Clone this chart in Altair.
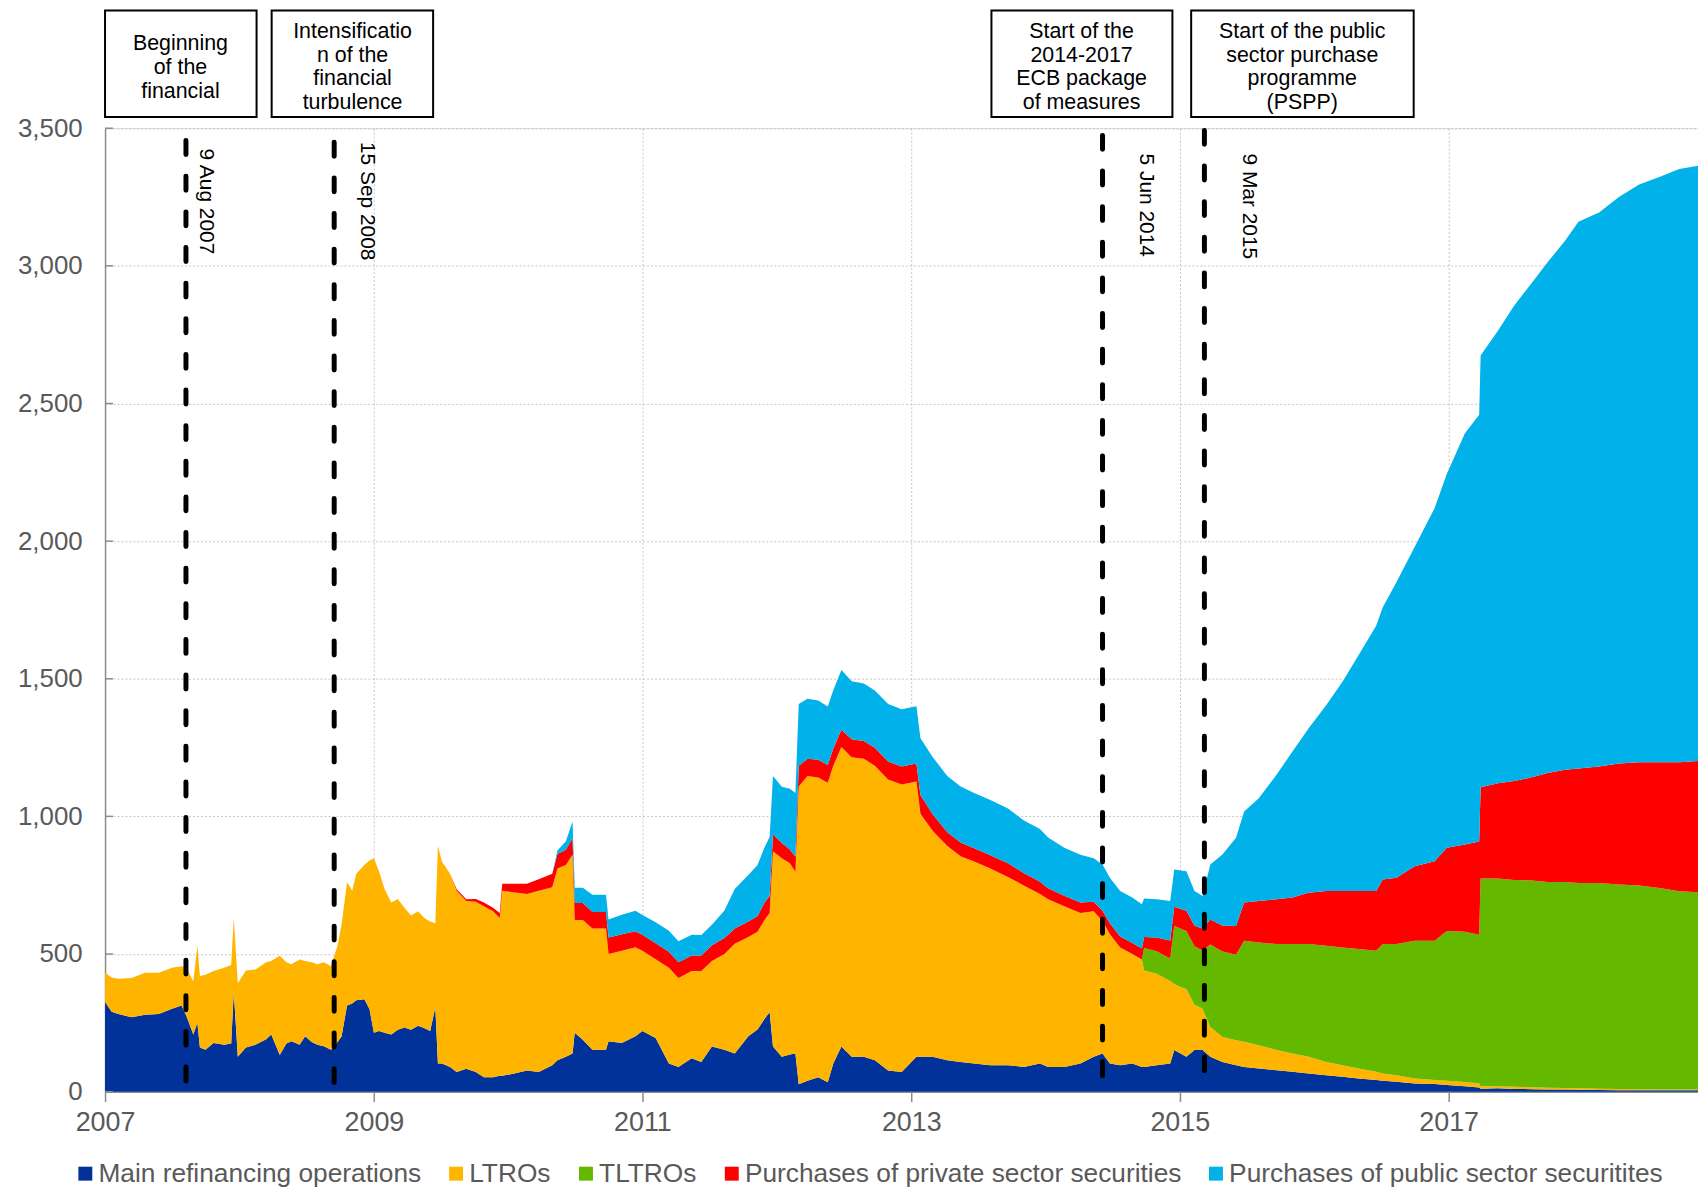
import altair as alt
import pandas as pd

# ---------------- data (EUR billions) ----------------
dates = [
    "2007-01-01", "2007-01-19", "2007-02-06", "2007-03-14", "2007-04-20", "2007-05-27", "2007-07-02", "2007-07-28",
    "2007-08-10", "2007-08-29", "2007-09-09", "2007-09-16", "2007-10-01", "2007-10-23", "2007-11-21", "2007-12-10",
    "2007-12-17", "2007-12-28",
    "2008-01-19", "2008-02-14", "2008-03-14", "2008-03-28", "2008-04-20", "2008-05-08", "2008-05-22", "2008-06-13",
    "2008-06-28", "2008-07-16", "2008-07-31", "2008-08-18", "2008-09-06", "2008-09-24", "2008-10-05", "2008-10-20",
    "2008-11-03", "2008-11-14", "2008-12-06", "2008-12-20",
    "2009-01-01", "2009-01-15", "2009-01-30", "2009-02-17", "2009-03-07", "2009-03-25", "2009-04-12", "2009-05-01",
    "2009-05-19", "2009-06-03", "2009-06-17", "2009-06-24", "2009-07-05", "2009-07-27", "2009-08-14", "2009-09-09",
    "2009-10-05", "2009-10-27", "2009-11-21", "2009-12-09", "2009-12-16",
    "2010-01-15", "2010-02-21", "2010-03-25", "2010-05-01", "2010-05-15", "2010-06-07", "2010-06-25", "2010-07-01",
    "2010-07-23", "2010-08-18", "2010-09-24", "2010-10-01", "2010-11-06", "2010-12-13",
    "2011-01-01", "2011-02-06", "2011-03-14", "2011-04-09", "2011-05-15", "2011-06-10", "2011-07-09", "2011-08-12",
    "2011-09-09", "2011-10-16", "2011-11-10", "2011-11-29", "2011-12-13", "2011-12-22",
    "2012-01-15", "2012-02-06", "2012-02-21", "2012-03-01", "2012-03-25", "2012-04-23", "2012-05-19", "2012-06-03",
    "2012-06-25", "2012-07-23", "2012-08-25", "2012-09-24", "2012-10-30", "2012-12-06",
    "2013-01-15", "2013-01-26", "2013-02-28", "2013-04-09", "2013-05-15", "2013-06-21", "2013-08-04", "2013-09-21",
    "2013-11-03", "2013-12-17",
    "2014-01-08", "2014-02-21", "2014-04-06", "2014-05-12", "2014-06-05", "2014-06-25", "2014-07-23", "2014-08-25",
    "2014-09-20", "2014-09-26", "2014-10-30", "2014-12-06", "2014-12-17",
    "2015-01-19", "2015-02-10", "2015-03-04", "2015-03-25", "2015-04-27", "2015-06-03", "2015-06-25", "2015-08-04",
    "2015-09-21", "2015-11-03", "2015-12-17",
    "2016-02-03", "2016-03-18", "2016-05-01", "2016-06-18", "2016-07-06", "2016-08-12", "2016-10-01", "2016-11-24",
    "2016-12-27",
    "2017-02-14", "2017-03-25", "2017-03-29", "2017-05-15", "2017-06-28", "2017-08-15", "2017-09-27", "2017-11-14",
    "2017-12-20",
    "2018-02-14", "2018-04-09", "2018-06-03", "2018-07-28", "2018-09-20", "2018-11-10",
]

mro = [
    326, 290, 282, 270, 279, 282, 301, 313, 276, 208, 250, 160, 152, 177, 170, 175, 363, 127,
    160, 170, 190, 208, 133, 175, 183, 170, 201, 180, 170, 165, 152, 180, 200, 313, 320, 332, 336, 300,
    214, 220, 214, 208, 225, 233, 225, 239, 230, 220, 307, 102, 102, 90, 71, 83, 71, 52, 52, 58, 58,
    65, 77, 71, 96, 114, 127, 139, 214, 189, 152, 152, 183, 177, 201,
    220, 195, 102, 90, 121, 108, 164, 152, 139, 201, 226, 264, 289, 164,
    127, 135, 139, 27, 40, 52, 34, 102, 164, 127, 127, 114, 77, 71,
    127, 127, 127, 114, 108, 102, 96, 96, 90, 102,
    90, 90, 102, 127, 139, 102, 96, 102, 90, 90, 96, 102, 151,
    127, 151, 151, 127, 108, 96, 90, 84, 78, 72, 66,
    60, 54, 48, 42, 40, 36, 30, 28, 24,
    20, 15, 11, 12, 10, 9, 8, 8, 7,
    6, 5, 5, 5, 5, 5,
]

ltro = [
    106, 125, 128, 143, 153, 150, 149, 143, 174, 192, 281, 260, 273, 261, 280, 285, 268, 267,
    280, 274, 280, 267, 361, 295, 280, 310, 274, 290, 293, 305, 304, 350, 406, 448, 410, 460, 487, 540,
    634, 580, 522, 479, 475, 435, 415, 416, 400, 398, 305, 790, 734, 702, 659, 610, 619, 622, 603, 573, 672,
    659, 641, 659, 647, 697, 696, 722, 410, 435, 441, 441, 317, 335, 324,
    292, 286, 348, 323, 317, 330, 311, 348, 398, 361, 355, 360, 360, 709,
    721, 695, 659, 1082, 1107, 1089, 1088, 1082, 1088, 1088, 1082, 1070, 1057, 1045,
    1000, 883, 821, 778, 747, 734, 715, 684, 659, 616,
    609, 584, 547, 528, 481, 470, 428, 398, 390, 350, 332, 300, 239,
    245, 165, 150, 108, 91, 91, 91, 85, 73, 67, 61,
    48, 42, 36, 30, 26, 24, 18, 14, 16,
    15, 15, 9, 8, 8, 7, 6, 5, 5,
    5, 5, 4, 3, 3, 3,
]

tltro = [
    0, 0, 0, 0, 0, 0, 0, 0, 0, 0, 0, 0, 0, 0, 0, 0, 0, 0,
    0, 0, 0, 0, 0, 0, 0, 0, 0, 0, 0, 0, 0, 0, 0, 0, 0, 0, 0, 0,
    0, 0, 0, 0, 0, 0, 0, 0, 0, 0, 0, 0, 0, 0, 0, 0, 0, 0, 0, 0, 0,
    0, 0, 0, 0, 0, 0, 0, 0, 0, 0, 0, 0, 0, 0,
    0, 0, 0, 0, 0, 0, 0, 0, 0, 0, 0, 0, 0, 0,
    0, 0, 0, 0, 0, 0, 0, 0, 0, 0, 0, 0, 0, 0,
    0, 0, 0, 0, 0, 0, 0, 0, 0, 0,
    0, 0, 0, 0, 0, 0, 0, 0, 0, 82, 82, 82, 212,
    212, 212, 212, 300, 310, 310, 367, 373, 385, 397, 409,
    422, 428, 434, 440, 470, 476, 500, 506, 544,
    546, 540, 754, 754, 751, 751, 748, 749, 746,
    747, 743, 740, 732, 720, 716,
]

private_purchases = [
    0, 0, 0, 0, 0, 0, 0, 0, 0, 0, 0, 0, 0, 0, 0, 0, 0, 0,
    0, 0, 0, 0, 0, 0, 0, 0, 0, 0, 0, 0, 0, 0, 0, 0, 0, 0, 0, 0,
    0, 0, 0, 0, 0, 0, 0, 0, 0, 0, 0, 0, 0, 0, 5, 6, 10, 13, 13, 18, 25,
    31, 37, 42, 49, 52, 56, 60, 61, 61, 60, 60, 60, 60, 58,
    58, 58, 58, 57, 57, 57, 57, 58, 56, 56, 56, 63, 62, 62,
    55, 50, 55, 75, 62, 65, 65, 63, 63, 65, 65, 65, 65, 65,
    65, 68, 60, 50, 50, 48, 48, 50, 45, 45,
    40, 38, 38, 35, 37, 40, 40, 40, 40, 40, 50, 65, 70,
    73, 75, 80, 90, 95, 105, 139, 151, 163, 169, 187,
    199, 205, 211, 217, 235, 241, 271, 289, 302,
    317, 339, 332, 346, 360, 375, 396, 407, 416,
    423, 439, 448, 457, 469, 477,
]

public_purchases = [
    0, 0, 0, 0, 0, 0, 0, 0, 0, 0, 0, 0, 0, 0, 0, 0, 0, 0,
    0, 0, 0, 0, 0, 0, 0, 0, 0, 0, 0, 0, 0, 0, 0, 0, 0, 0, 0, 0,
    0, 0, 0, 0, 0, 0, 0, 0, 0, 0, 0, 0, 0, 0, 0, 0, 0, 0, 0, 0, 0,
    0, 0, 0, 0, 13, 31, 60, 56, 56, 62, 62, 65, 71, 74,
    72, 76, 77, 76, 75, 74, 74, 100, 143, 169, 186, 200, 215, 212,
    205, 220, 232, 224, 218, 215, 212, 211, 217, 211, 209, 208, 209, 208,
    208, 206, 208, 205, 204, 201, 201, 199, 191, 191,
    184, 174, 174, 158, 168, 165, 165, 165, 161, 140, 139, 144, 135,
    144, 126, 118, 200, 258, 320, 331, 373, 452, 530, 596,
    675, 759, 856, 964, 989, 1074, 1161, 1283, 1358,
    1493, 1550, 1568, 1644, 1726, 1796, 1855, 1923, 1986,
    2013, 2058, 2099, 2126, 2155, 2163,
]

series_names = [
    "Main refinancing operations",
    "LTROs",
    "TLTROs",
    "Purchases of private sector securities",
    "Purchases of public sector securitites",
]
series_colors = ["#003299", "#FFB400", "#65B800", "#FF0000", "#00B1EA"]

year_labels = [2007, 2009, 2011, 2013, 2015, 2017]
y_ticks = [0, 500, 1000, 1500, 2000, 2500, 3000, 3500]

event_dates = ["2007-08-09", "2008-09-15", "2014-06-05", "2015-03-09"]
event_labels = ["9 Aug 2007", "15 Sep 2008", "5 Jun 2014", "9 Mar 2015"]
event_line_tops = [3455, 3449, 3474, 3492]
event_label_tops = [3426, 3450, 3408, 3408]
event_label_shift = [14, 26.5, 38, 38.5]

box_starts = ["2007-01-01", "2008-03-29", "2013-08-07", "2015-02-01"]
box_ends = ["2008-02-17", "2009-06-11", "2014-12-12", "2016-09-28"]
box_centers = ["2007-07-25", "2008-11-04", "2014-04-09", "2015-11-30"]
box_top, box_bottom = 3928, 3541
box_first_line = [3784, 3829, 3829, 3829]
box_texts = [
    ["Beginning", "of the", "financial"],
    ["Intensificatio", "n of the", "financial", "turbulence"],
    ["Start of the", "2014-2017", "ECB package", "of measures"],
    ["Start of the public", "sector purchase", "programme", "(PSPP)"],
]

# ---------------- build tables ----------------
all_series = [mro, ltro, tltro, private_purchases, public_purchases]
assert all(len(s) == len(dates) for s in all_series), [len(s) for s in all_series] + [len(dates)]

records = []
for k, (name, vals) in enumerate(zip(series_names, all_series)):
    for d, v in zip(dates, vals):
        records.append({"date": d, "series": name, "rank": k, "value": v})
df = pd.DataFrame(records)

FONT = "Liberation Sans, Arial, sans-serif"
GRID = "#C6C6C6"
AXIS = "#8C8C8C"
LABEL = "#595959"


def dt(s):
    y, m, d = (int(p) for p in s.split("-"))
    return alt.DateTime(year=y, month=m, date=d, utc=True)


xscale = alt.Scale(type="utc", domain=[dt("2007-01-01"), dt("2018-11-10")], nice=False)
yscale = alt.Scale(domain=[0, 3500], nice=False)

X_AXIS = alt.Axis(
    values=[alt.DateTime(year=y, month=1, date=1, utc=True) for y in year_labels],
    format="%Y", title=None, grid=True, gridColor=GRID, gridDash=[2, 2], gridWidth=1,
    domainColor=AXIS, domainWidth=1.5, tickColor=AXIS, tickSize=10, tickWidth=1.5,
    labelFontSize=27, labelColor=LABEL, labelFont=FONT, labelPadding=8,
    labelFlush=False, labelOverlap=False,
)
Y_AXIS = alt.Axis(
    values=y_ticks, format=",.0f", title=None, grid=True, gridColor=GRID, gridDash=[2, 2],
    gridWidth=1, domainColor=AXIS, domainWidth=1.5, ticks=False,
    labelFontSize=26, labelColor=LABEL, labelFont=FONT, labelPadding=23,
)


def X(field):
    return alt.X(field, scale=xscale, axis=X_AXIS)


def Y(field, **kw):
    return alt.Y(field, scale=yscale, axis=Y_AXIS, **kw)


area = alt.Chart(df).mark_area(interpolate="linear").encode(
    x=X("date:T"),
    y=Y("value:Q", stack="zero"),
    color=alt.Color(
        "series:N",
        scale=alt.Scale(domain=series_names, range=series_colors),
        legend=alt.Legend(
            title=None, orient="none", legendX=-33, legendY=1037, direction="horizontal",
            symbolType="square", symbolSize=196, symbolStrokeWidth=0,
            labelFontSize=26.4, labelFont=FONT, labelColor=LABEL, labelOffset=0,
            columnPadding=21.5, padding=0, labelLimit=1000,
        ),
    ),
    order=alt.Order("rank:Q", sort="ascending"),
)

tick_df = pd.DataFrame({"v": y_ticks})
inner_ticks = alt.Chart(tick_df).mark_rule(color=AXIS, strokeWidth=1.5).encode(
    y=Y("v:Q"), x=alt.value(0), x2=alt.value(8)
)

ev = pd.DataFrame({"date": event_dates, "top": event_line_tops, "bottom": [0, 0, 0, 0]})
rules = alt.Chart(ev).mark_rule(
    color="black", strokeWidth=5, strokeDash=[14, 21.8], strokeCap="round"
).encode(
    x=X("date:T"),
    y=Y("top:Q"),
    y2="bottom:Q",
)

layers = [area, inner_ticks, rules]

for d, lab, top, shift in zip(event_dates, event_labels, event_label_tops, event_label_shift):
    one = pd.DataFrame({"date": [d], "y": [top], "label": [lab]})
    layers.append(
        alt.Chart(one).mark_text(
            angle=90, align="left", baseline="alphabetic", dy=-shift,
            fontSize=21, font=FONT, color="black",
        ).encode(
            x=X("date:T"),
            y=Y("y:Q"),
            text="label:N",
        )
    )

boxes = pd.DataFrame({"x0": box_starts, "x1": box_ends, "y0": [box_top] * 4, "y1": [box_bottom] * 4})
layers.append(
    alt.Chart(boxes).mark_rect(fill="white", stroke="black", strokeWidth=2).encode(
        x=X("x0:T"),
        x2="x1:T",
        y=Y("y0:Q"),
        y2="y1:Q",
    )
)

for c, first, lines in zip(box_centers, box_first_line, box_texts):
    one = pd.DataFrame({"date": [c], "y": [first]})
    layers.append(
        alt.Chart(one).mark_text(
            text=lines, align="center", baseline="alphabetic", lineHeight=24,
            fontSize=21.5, font=FONT, color="black",
        ).encode(
            x=X("date:T"),
            y=Y("y:Q"),
        )
    )

chart = (
    alt.layer(*layers)
    .properties(
        width=1600.5,
        height=968,
        autosize=alt.AutoSizeParams(type="none"),
        padding={"left": 97.5, "top": 118, "right": 0, "bottom": 93},
        background="white",
    )
    .configure_view(stroke=None)
    .configure(font=FONT)
)

chart.save("out.html", embed_options={"renderer": "svg", "actions": False})
